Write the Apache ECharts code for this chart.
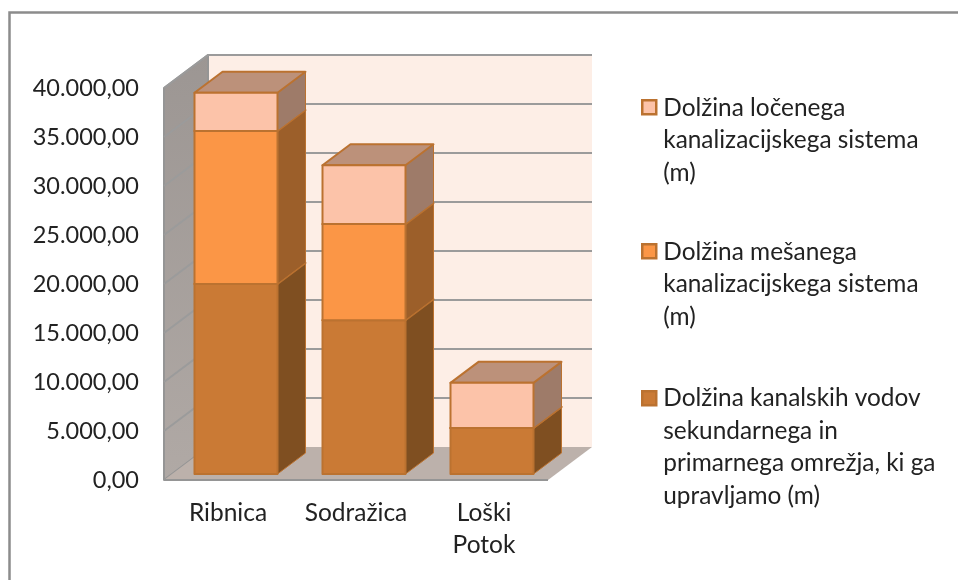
<!DOCTYPE html>
<html><head><meta charset="utf-8">
<style>html,body{margin:0;padding:0;background:#fff}#c{width:958px;height:580px}</style>
<script src="https://cdn.jsdelivr.net/npm/echarts@6/dist/echarts.min.js"></script>
</head><body><div id="c"></div>
<script>
const categories = ['Ribnica', 'Sodražica', 'Loški\nPotok'];
const yTicks = [5000, 10000, 15000, 20000, 25000, 30000, 35000, 40000];
const secondary = [19400, 15700, 4700];
const mixed = [15600, 9800, 0];
const separate = [3900, 6000, 4600];
const nameSeparate = 'Dolžina ločenega\nkanalizacijskega sistema\n(m)';
const nameMixed = 'Dolžina mešanega\nkanalizacijskega sistema\n(m)';
const nameSecondary = 'Dolžina kanalskih vodov\nsekundarnega in\nprimarnega omrežja, ki ga\nupravljamo (m)';

const FONT = 'Lato';
const EDGE = '#bb7230';
const looks = {
  secondary: {front: '#ca7a35', side: '#7f4f21', top: '#a8703c'},
  mixed: {front: '#fb9646', side: '#9c5f2a', top: '#b97a45'},
  separate: {front: '#fcc3a9', side: '#9e7b69', top: '#bc917a'}
};
// Projection offsets of the 3-D box
const WALL_DX = 44, WALL_DY = -33, BAR_IN_X = 8, BAR_IN_Y = -6, BAR_DX = 28, BAR_DY = -21, BAR_HALF = 41.5;

function fmt(v) {
  return String(v).replace(/\B(?=(\d{3})+$)/g, '.') + ',00';
}

function cuboid(look, base, values) {
  return function (params, api) {
    const i = api.value(0);
    const b = base[i], v = values[i];
    const p0 = api.coord([i, b]), p1 = api.coord([i, b + v]);
    const l = p0[0] + BAR_IN_X - BAR_HALF, r = p0[0] + BAR_IN_X + BAR_HALF;
    const yb = p0[1] + BAR_IN_Y, yt = p1[1] + BAR_IN_Y;
    const poly = (pts, fill, lw) => ({type: 'polygon', shape: {points: pts},
      style: {fill: fill, stroke: EDGE, lineWidth: lw, lineJoin: 'round'}});
    return {type: 'group', children: [
      poly([[r, yb], [r + BAR_DX, yb + BAR_DY], [r + BAR_DX, yt + BAR_DY], [r, yt]], look.side, 1),
      poly([[l, yt], [r, yt], [r + BAR_DX, yt + BAR_DY], [l + BAR_DX, yt + BAR_DY]], look.top, 2),
      poly([[l, yb], [r, yb], [r, yt], [l, yt]], look.front, 2)
    ]};
  };
}
function stacked(name, look, base, values) {
  return {name: name, type: 'custom', z: 3, silent: true, clip: false,
    coordinateSystem: 'cartesian2d', encode: {x: 0, y: 1},
    renderItem: cuboid(look, base, values),
    data: categories.map((c, i) => [i, base[i] + values[i]]),
    itemStyle: {color: look.front}};
}
const base2 = secondary.slice();
const base3 = secondary.map((v, i) => v + mixed[i]);
const zeros = secondary.map(() => 0);

// Horizontal extent of the category axis, from the first and last band centres
function plotEnds(api) {
  const band = api.size([1, 0])[0];
  const l = api.coord([0, 0])[0] - band / 2;
  const r = api.coord([categories.length - 1, 0])[0] + band / 2;
  return [l, r];
}
function walls(params, api) {
  const ends = plotEnds(api);
  const L = ends[0], R = ends[1];
  const y0 = api.coord([0, 0])[1], yT = api.coord([0, yTicks[yTicks.length - 1]])[1];
  const o = [L, y0], t = [L, yT], e = [R, y0];
  const wall = (pts, fill) => ({type: 'polygon', shape: {points: pts},
    style: {fill: fill, stroke: '#959595', lineWidth: 2, lineJoin: 'round'}});
  return {type: 'group', children: [
    {type: 'polygon', shape: {points: [[o[0] + WALL_DX, t[1] + WALL_DY], [e[0] + WALL_DX, t[1] + WALL_DY], [e[0] + WALL_DX, o[1] + WALL_DY], [o[0] + WALL_DX, o[1] + WALL_DY]]},
      style: {fill: '#fdeee6'}},
    wall([[o[0], t[1]], [o[0] + WALL_DX, t[1] + WALL_DY], [o[0] + WALL_DX, o[1] + WALL_DY], [o[0], o[1]]],
      {type: 'linear', x: 0, y: 0, x2: 0, y2: 1, colorStops: [{offset: 0, color: '#9c9693'}, {offset: 1, color: '#b0a9a5'}]}),
    {type: 'polygon', shape: {points: [[o[0], o[1]], [e[0], o[1]], [e[0] + WALL_DX, o[1] + WALL_DY], [o[0] + WALL_DX, o[1] + WALL_DY]]},
      style: {fill: '#bcb1ab'}},
    {type: 'line', shape: {x1: o[0], y1: o[1], x2: e[0], y2: o[1]}, style: {stroke: '#959595', lineWidth: 2}}
  ]};
}
function gridLines(params, api) {
  const v = api.value(1);
  const ends = plotEnds(api);
  const y = api.coord([0, v])[1];
  const s = {stroke: '#9b9b9b', lineWidth: 2, fill: null};
  return {type: 'polyline', shape: {points: [[ends[0], y], [ends[0] + WALL_DX, y + WALL_DY], [ends[1] + WALL_DX, y + WALL_DY]]}, style: s};
}

function legendOf(name, look, top, lines) {
  const h = lines * 32;
  return {show: true, left: 639, top: top, orient: 'vertical', padding: 0, selectedMode: false,
    itemWidth: 18, itemHeight: h,
    icon: 'path://M2 8H16V22H2Z M0 0 M18 ' + h,
    itemStyle: {color: look.front, borderColor: EDGE, borderWidth: 2.5},
    textStyle: {fontFamily: FONT, fontSize: 24.4, lineHeight: 32.5, color: '#222'},
    data: [name]};
}

const chart = echarts.init(document.getElementById('c'), null, {renderer: 'canvas'});
chart.setOption({
  animation: false,
  backgroundColor: '#fff',
  graphic: [{type: 'polyline', silent: true, shape: {points: [[9.5, 580], [9.5, 12.5], [958, 12.5]]},
    style: {fill: null, stroke: '#8c8c8c', lineWidth: 2.5}}],
  grid: {left: 164, top: 88, width: 384, height: 392, containLabel: false},
  xAxis: {type: 'category', data: categories, axisLine: {show: false}, axisTick: {show: false}, splitLine: {show: false},
    axisLabel: {fontFamily: FONT, fontSize: 24.5, lineHeight: 32, color: '#222', margin: 17, interval: 0}},
  yAxis: {type: 'value', min: 0, max: 40000, interval: 5000, axisLine: {show: false}, axisTick: {show: false}, splitLine: {show: false},
    axisLabel: {fontFamily: FONT, fontSize: 23.5, color: '#222', margin: 25, padding: [3, 0, 0, 0], formatter: fmt}},
  legend: [
    legendOf(nameSeparate, looks.separate, 91, 3),
    legendOf(nameMixed, looks.mixed, 235, 3),
    legendOf(nameSecondary, looks.secondary, 382, 4)
  ],
  series: [
    {name: 'walls', type: 'custom', z: 1, silent: true, clip: false, renderItem: walls, data: [[0, 0]], encode: {x: 0, y: 1}},
    {name: 'grid', type: 'custom', z: 2, silent: true, clip: false, renderItem: gridLines,
      data: yTicks.map(v => [0, v]), encode: {x: 0, y: 1}},
    stacked(nameSecondary, looks.secondary, zeros, secondary),
    stacked(nameMixed, looks.mixed, base2, mixed),
    stacked(nameSeparate, looks.separate, base3, separate)
  ]
});
</script></body></html>
